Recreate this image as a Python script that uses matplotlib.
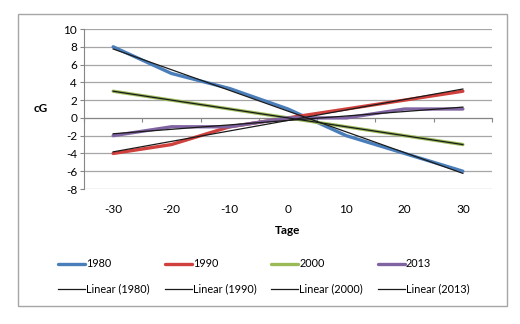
import numpy as np
import matplotlib
matplotlib.use('Agg')
import matplotlib.pyplot as plt
from matplotlib.patches import Rectangle

plt.rcParams['font.family'] = ['Lato', 'DejaVu Sans']

# data
tage = [-30, -20, -10, 0, 10, 20, 30]
years = ['1980', '1990', '2000', '2013']
cg_1980 = [8, 5, 3.3, 1, -2, -4, -6]
cg_1990 = [-4, -3, -1, 0, 1, 2, 3]
cg_2000 = [3, 2, 1, 0, -1, -2, -3]
cg_2013 = [-2, -1, -1, 0, 0, 1, 1]
series = [cg_1980, cg_1990, cg_2000, cg_2013]
colors = ['#4a7ebb', '#d0403c', '#9bbb59', '#8064a2']
yticks = list(range(-8, 11, 2))

W, H = 520, 324
fs = 8.5
fig = plt.figure(figsize=(W / 100, H / 100), dpi=100)
fig.patches.append(Rectangle((18 / W, 1 - 306 / H), (507 - 18) / W, (306 - 14) / H,
                             transform=fig.transFigure, fill=False,
                             edgecolor='#a6a6a6', linewidth=1))

ax = fig.add_axes([84 / W, 1 - 189 / H, (492 - 84) / W, (189 - 29) / H])
idx = np.arange(len(tage))

handles = []
for name, vals, c in zip(years, series, colors):
    h1, = ax.plot(idx, vals, color=c, lw=2.4, solid_capstyle='round', label=name, zorder=3)
    k, b = np.polyfit(idx, vals, 1)
    h2, = ax.plot(idx[[0, -1]], k * idx[[0, -1]] + b, color='#1a1a1a', lw=0.9,
                  label='Linear (%s)' % name, zorder=4)
    handles += [h1, h2]

ax.set_xlim(-0.5, len(tage) - 0.5)
ax.set_ylim(-8, 10)
ax.set_yticks(yticks)
ax.set_yticklabels([str(v) for v in yticks], fontsize=fs)
ax.yaxis.grid(True, color='#a6a6a6', lw=0.9)
ax.set_axisbelow(True)
ax.tick_params(axis='y', length=3, color='#868686', pad=2)

for s in ['top', 'right']:
    ax.spines[s].set_visible(False)
ax.spines['left'].set_color('#868686')
ax.spines['bottom'].set_position(('data', 0))
ax.spines['bottom'].set_color('#868686')
ax.set_xticks(np.arange(-0.5, len(tage), 1.0))
ax.tick_params(axis='x', length=3, color='#868686', labelbottom=False)

sec = ax.secondary_xaxis('bottom')
sec.set_xticks(idx)
sec.set_xticklabels([str(t) for t in tage], fontsize=fs)
sec.tick_params(length=0, pad=11)
sec.spines['bottom'].set_visible(False)
sec.set_xlabel('Tage', fontsize=fs, fontweight='bold', labelpad=7)

ax.set_ylabel('cG', fontsize=fs, fontweight='bold', rotation=0, labelpad=16, va='center')

fig.legend(handles=handles, loc='upper left', bbox_to_anchor=(54 / W, 1 - 254 / H),
           ncol=4, frameon=False, fontsize=7.8, handlelength=2.5, handletextpad=0.1,
           columnspacing=1.35, labelspacing=1.3, borderaxespad=0)

fig.savefig('out.png', dpi=100)
